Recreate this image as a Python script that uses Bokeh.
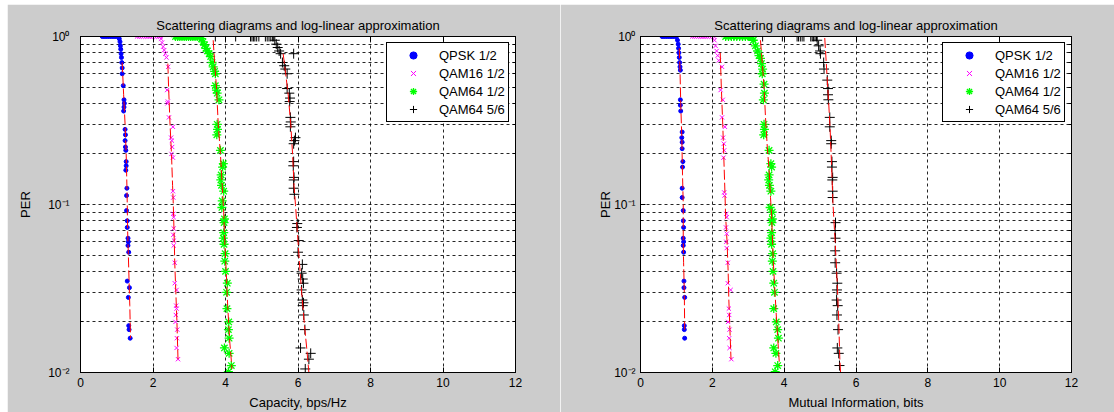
from bokeh.plotting import figure
from bokeh.layouts import row
from bokeh.models import (Range1d, FixedTicker, LinearAxis, LogAxis, Legend, LegendItem,
                          CustomJSTickFormatter)
from bokeh.embed import file_html
from bokeh.resources import INLINE

TITLE = "Scattering diagrams and log-linear approximation"
series_labels = ["QPSK 1/2", "QAM16 1/2", "QAM64 1/2", "QAM64 5/6"]
x_ticks = [0, 2, 4, 6, 8, 10, 12]
y_major = [0.01, 0.1, 1]
y_minor = [0.02, 0.03, 0.04, 0.05, 0.06, 0.07, 0.08, 0.09,
           0.2, 0.3, 0.4, 0.5, 0.6, 0.7, 0.8, 0.9]
x_labels = ["Capacity, bps/Hz", "Mutual Information, bits"]
y_label = "PER"

# ---------------- Left panel: capacity ----------------
cap_qpsk_x = [0.60, 0.65, 0.70, 0.75, 0.80, 0.85, 0.90, 0.95, 1.00, 1.05,
              1.07, 1.09, 1.10, 1.11, 1.12, 1.13, 1.14, 1.15, 1.15,
              1.18, 1.20, 1.21, 1.20, 1.19, 1.23, 1.24, 1.23, 1.24, 1.25,
              1.26, 1.26, 1.25, 1.28, 1.27, 1.27, 1.29, 1.29, 1.31, 1.32,
              1.31, 1.33, 1.29, 1.35, 1.32, 1.33, 1.34, 1.37]
cap_qpsk_per = [1, 1, 1, 1, 1, 1, 1, 1, 1, 1,
                0.97, 0.93, 0.88, 0.84, 0.79, 0.75, 0.70, 0.65, 0.60,
                0.51, 0.42, 0.40, 0.38, 0.36, 0.28, 0.26, 0.24, 0.22, 0.21,
                0.18, 0.17, 0.16, 0.125, 0.113, 0.092, 0.080, 0.073, 0.063, 0.060,
                0.057, 0.052, 0.035, 0.032, 0.028, 0.019, 0.018, 0.016]

cap_qam16_x = [1.56, 1.62, 1.68, 1.74, 1.80, 1.86, 1.92, 1.98, 2.04, 2.10, 2.16, 2.20,
               2.22, 2.25, 2.28, 2.31, 2.34, 2.37, 2.42, 2.39, 2.41, 2.40,
               2.44, 2.55, 2.50, 2.52, 2.53, 2.51, 2.55, 2.55, 2.56, 2.56,
               2.57, 2.57, 2.56, 2.58, 2.57, 2.60, 2.60, 2.65, 2.64, 2.65,
               2.63, 2.62, 2.67, 2.66, 2.65, 2.69]
cap_qam16_per = [1, 1, 1, 1, 1, 1, 1, 1, 1, 1, 1, 1,
                 0.97, 0.92, 0.87, 0.83, 0.79, 0.75, 0.66, 0.48, 0.41, 0.40,
                 0.33, 0.29, 0.25, 0.24, 0.22, 0.20, 0.19, 0.12, 0.11, 0.088,
                 0.084, 0.072, 0.066, 0.061, 0.057, 0.045, 0.034, 0.031, 0.025, 0.024,
                 0.022, 0.020, 0.018, 0.016, 0.014, 0.012]

cap_qam64h_x = [2.62, 2.68, 2.74, 2.80, 2.86, 2.92, 2.98, 3.04, 3.10, 3.16, 3.22, 3.28, 3.31,
                3.34, 3.38, 3.42, 3.46, 3.50, 3.55, 3.59, 3.63, 3.66, 3.70,
                3.72, 3.72, 3.75, 3.77, 3.82, 3.77, 3.78, 3.76, 3.86, 3.94,
                3.92, 3.88, 3.87, 3.89, 3.95, 3.91, 3.90, 3.97, 3.96, 3.95,
                3.94, 3.96, 3.99, 3.98, 4.00, 4.05, 4.03, 4.04, 4.09, 4.08,
                4.10, 3.97, 4.10, 4.16, 4.08]
cap_qam64h_per = [1, 1, 1, 1, 1, 1, 1, 1, 1, 1, 1, 1, 1,
                  0.97, 0.93, 0.89, 0.85, 0.82, 0.79, 0.76, 0.70, 0.66, 0.62,
                  0.60, 0.51, 0.48, 0.46, 0.42, 0.30, 0.28, 0.26, 0.21, 0.175,
                  0.167, 0.15, 0.14, 0.13, 0.12, 0.105, 0.096, 0.082, 0.078, 0.068,
                  0.063, 0.058, 0.051, 0.046, 0.040, 0.034, 0.030, 0.024, 0.020, 0.018,
                  0.016, 0.014, 0.013, 0.011, 0.0101]

cap_qam64f_x = [3.72, 4.28, 4.69, 4.73, 4.77, 4.81, 4.86, 4.92, 5.10, 5.15, 5.20, 5.25, 5.30, 5.33,
                5.36, 5.40, 5.44, 5.48, 5.52, 5.88, 5.57, 5.62, 5.65, 5.70,
                5.70, 5.76, 5.78, 5.77, 5.79, 5.80, 5.79, 5.93, 5.90, 5.88,
                5.88, 5.87, 5.89, 5.88, 5.88, 5.90, 5.98, 5.97, 6.02, 6.00,
                6.12, 6.10, 6.13, 6.15, 6.10, 6.12, 6.15, 6.13, 6.16, 6.19,
                6.07, 6.35, 6.30, 6.20]
cap_qam64f_per = [1, 1, 1, 1, 1, 1, 1, 1, 1, 1, 1, 1, 1, 1,
                  0.95, 0.90, 0.86, 0.82, 0.79, 0.79, 0.70, 0.67, 0.64, 0.60,
                  0.49, 0.46, 0.43, 0.41, 0.33, 0.31, 0.29, 0.25, 0.24, 0.23,
                  0.18, 0.17, 0.145, 0.14, 0.125, 0.115, 0.077, 0.073, 0.061, 0.052,
                  0.044, 0.039, 0.036, 0.034, 0.031, 0.027, 0.026, 0.025, 0.022, 0.018,
                  0.014, 0.013, 0.012, 0.0105]

cap_qpsk_fit_x = [1.15, 1.19, 1.23, 1.26, 1.28, 1.29, 1.30, 1.32, 1.34, 1.36, 1.38]
cap_qpsk_fit_per = [0.70, 0.45, 0.30, 0.20, 0.13, 0.10, 0.07, 0.05, 0.035, 0.025, 0.016]
cap_qam16_fit_x = [2.41, 2.43, 2.47, 2.51, 2.54, 2.56, 2.58, 2.60, 2.63, 2.66, 2.69]
cap_qam16_fit_per = [0.69, 0.50, 0.30, 0.20, 0.13, 0.10, 0.07, 0.045, 0.03, 0.02, 0.012]
cap_qam64h_fit_x = [3.66, 3.70, 3.75, 3.80, 3.86, 3.91, 3.95, 3.98, 4.02, 4.06, 4.12, 4.18]
cap_qam64h_fit_per = [0.95, 0.70, 0.50, 0.30, 0.20, 0.13, 0.09, 0.06, 0.04, 0.025, 0.015, 0.0105]
cap_qam64f_fit_x = [5.59, 5.66, 5.73, 5.80, 5.85, 5.89, 5.93, 5.98, 6.04, 6.10, 6.18, 6.24, 6.30]
cap_qam64f_fit_per = [0.79, 0.60, 0.45, 0.30, 0.20, 0.13, 0.10, 0.07, 0.045, 0.03, 0.019, 0.014, 0.01]

# ---------------- Right panel: mutual information ----------------
mi_qpsk_x = [0.60, 0.65, 0.70, 0.75, 0.80, 0.85, 0.90, 0.95, 1.00,
             1.03, 1.05, 1.06, 1.07, 1.08, 1.09, 1.10, 1.11, 1.11, 1.11,
             1.12, 1.16, 1.15, 1.16, 1.16, 1.18, 1.17, 1.16, 1.16, 1.19,
             1.19, 1.20, 1.19, 1.20, 1.19, 1.20, 1.21, 1.21, 1.23, 1.22,
             1.22, 1.23]
mi_qpsk_per = [1, 1, 1, 1, 1, 1, 1, 1, 1,
               0.95, 0.90, 0.85, 0.80, 0.75, 0.70, 0.66, 0.63, 0.42, 0.39,
               0.36, 0.27, 0.25, 0.235, 0.215, 0.18, 0.167, 0.125, 0.11, 0.092,
               0.080, 0.073, 0.063, 0.060, 0.057, 0.052, 0.035, 0.032, 0.028, 0.019,
               0.018, 0.016]

mi_qam16_x = [1.44, 1.50, 1.56, 1.62, 1.68, 1.74, 1.80, 1.86, 1.92, 1.98, 2.04,
              2.06, 2.09, 2.12, 2.15, 2.18, 2.27, 2.23, 2.29, 2.27, 2.35,
              2.30, 2.32, 2.33, 2.31, 2.33, 2.34, 2.39, 2.40, 2.38, 2.40,
              2.39, 2.40, 2.43, 2.43, 2.51, 2.46, 2.47, 2.44, 2.48, 2.47,
              2.48, 2.53]
mi_qam16_per = [1, 1, 1, 1, 1, 1, 1, 1, 1, 1, 1,
                0.95, 0.88, 0.82, 0.77, 0.72, 0.66, 0.48, 0.42, 0.33, 0.29,
                0.25, 0.23, 0.21, 0.19, 0.118, 0.113, 0.088, 0.084, 0.073, 0.067,
                0.060, 0.055, 0.045, 0.034, 0.031, 0.024, 0.022, 0.020, 0.018, 0.016,
                0.014, 0.012]

mi_qam64h_x = [2.37, 2.45, 2.53, 2.60, 2.68, 2.76, 2.84, 2.92, 3.00, 3.06, 3.11,
               3.14, 3.20, 3.26, 3.30, 3.34, 3.37, 3.40, 3.39, 3.44, 3.45,
               3.42, 3.44, 3.45, 3.43, 3.58, 3.63, 3.65, 3.58, 3.57, 3.59,
               3.63, 3.61, 3.67, 3.67, 3.66, 3.65, 3.63, 3.65, 3.68, 3.67,
               3.69, 3.71, 3.73, 3.71, 3.78, 3.82, 3.84, 3.71, 3.77, 3.82,
               3.75]
mi_qam64h_per = [1, 1, 1, 1, 1, 1, 1, 1, 1, 1, 1,
                 0.95, 0.88, 0.82, 0.77, 0.74, 0.69, 0.64, 0.60, 0.52, 0.46,
                 0.42, 0.30, 0.28, 0.26, 0.21, 0.175, 0.167, 0.15, 0.14, 0.13,
                 0.12, 0.096, 0.090, 0.082, 0.078, 0.068, 0.063, 0.058, 0.051, 0.046,
                 0.040, 0.034, 0.030, 0.024, 0.020, 0.018, 0.016, 0.014, 0.013, 0.011,
                 0.0101]

mi_qam64f_x = [3.40, 3.95, 4.36, 4.40, 4.45, 4.50, 4.55, 4.74, 4.78, 4.82, 4.86, 4.90,
               4.92, 4.96, 5.00, 5.01, 5.10, 5.11, 5.20, 5.22, 5.22, 5.23,
               5.27, 5.27, 5.31, 5.31, 5.33, 5.33, 5.35, 5.34, 5.35, 5.35,
               5.43, 5.42, 5.43, 5.42, 5.42, 5.46, 5.48, 5.47, 5.46, 5.49,
               5.47, 5.50, 5.48, 5.52, 5.54]
mi_qam64f_per = [1, 1, 1, 1, 1, 1, 1, 1, 1, 1, 1, 1,
                 0.95, 0.88, 0.82, 0.79, 0.70, 0.64, 0.55, 0.49, 0.45, 0.42,
                 0.33, 0.29, 0.24, 0.23, 0.18, 0.167, 0.145, 0.14, 0.12, 0.11,
                 0.078, 0.070, 0.063, 0.053, 0.045, 0.039, 0.034, 0.031, 0.027, 0.025,
                 0.022, 0.018, 0.014, 0.013, 0.011]

mi_qpsk_fit_x = [1.08, 1.10, 1.12, 1.15, 1.17, 1.19, 1.19, 1.20, 1.22, 1.23]
mi_qpsk_fit_per = [0.85, 0.63, 0.40, 0.25, 0.15, 0.10, 0.06, 0.045, 0.03, 0.018]
mi_qam16_fit_x = [2.22, 2.25, 2.29, 2.32, 2.35, 2.37, 2.41, 2.44, 2.46, 2.49, 2.52]
mi_qam16_fit_per = [0.80, 0.50, 0.30, 0.19, 0.12, 0.085, 0.06, 0.04, 0.027, 0.018, 0.012]
mi_qam64h_fit_x = [3.34, 3.39, 3.44, 3.48, 3.53, 3.58, 3.62, 3.65, 3.67, 3.70, 3.73, 3.78, 3.82, 3.87]
mi_qam64h_fit_per = [0.95, 0.70, 0.50, 0.33, 0.22, 0.16, 0.11, 0.085, 0.066, 0.045, 0.034, 0.022, 0.016, 0.011]
mi_qam64f_fit_x = [5.13, 5.19, 5.24, 5.28, 5.32, 5.36, 5.41, 5.45, 5.48, 5.52, 5.55, 5.57]
mi_qam64f_fit_per = [0.98, 0.60, 0.40, 0.28, 0.17, 0.10, 0.065, 0.045, 0.033, 0.02, 0.012, 0.01]

BG = "#cccccc"
FONT = "Liberation Sans"

MARKERS = [
    dict(marker="circle", size=4, fill_color="#0000ff", line_color="#0000ff", line_width=1),
    dict(marker="x", size=6, line_color="#ff00ff", line_width=1),
    dict(marker="asterisk", size=9, line_color="#00ff00", line_width=1.3),
    dict(marker="cross", size=10, line_color="#000000", line_width=1),
]

YFMT = r"""
const e = Math.round(Math.log10(tick));
const m = {"0": "\u2070", "1": "\u00b9", "2": "\u00b2", "-": "\u207b"};
let s = "";
for (const c of String(e)) { s += (m[c] !== undefined ? m[c] : c); }
return "10" + s;
"""


def tick_only_axis(cls, ticker):
    return cls(ticker=ticker, formatter=CustomJSTickFormatter(code="return '';"),
               major_label_standoff=0, major_tick_in=5, major_tick_out=0,
               minor_tick_in=3, minor_tick_out=0, axis_line_color="black",
               major_tick_line_color="black", minor_tick_line_color="black")


def make_panel(xlabel, series, fits, width, b_left, b_right, ytick_standoff,
               ylabel_standoff, margin):
    p = figure(width=width, height=408, x_range=Range1d(0, 12), y_range=Range1d(0.01, 1),
               y_axis_type="log", output_backend="svg", toolbar_location=None,
               min_border_left=b_left, min_border_right=b_right,
               min_border_top=32, min_border_bottom=40,
               background_fill_color="white", border_fill_color=BG, title=TITLE)
    p.margin = margin
    p.title.align = "center"
    p.title.text_font = FONT
    p.title.text_font_size = "13px"
    p.title.text_font_style = "normal"
    p.title.text_color = "black"
    p.title.standoff = 7
    p.outline_line_color = "black"
    p.outline_line_width = 1
    p.outline_line_alpha = 1

    xa = p.xaxis[0]
    xa.ticker = FixedTicker(ticks=x_ticks)
    xa.axis_label = xlabel
    ya = p.yaxis[0]
    ya.ticker = FixedTicker(ticks=y_major, minor_ticks=y_minor)
    ya.formatter = CustomJSTickFormatter(code=YFMT)
    ya.axis_label = y_label
    ya.major_label_standoff = ytick_standoff
    ya.axis_label_standoff = ylabel_standoff
    xa.major_label_standoff = 5
    xa.axis_label_standoff = 5
    for ax in (xa, ya):
        ax.axis_line_color = "black"
        ax.major_tick_in = 5
        ax.major_tick_out = 0
        ax.major_tick_line_color = "black"
        ax.major_label_text_font = FONT
        ax.major_label_text_font_size = "12px"
        ax.major_label_text_color = "black"
        ax.axis_label_text_font = FONT
        ax.axis_label_text_font_size = "13px"
        ax.axis_label_text_font_style = "normal"
        ax.axis_label_text_color = "black"
    xa.minor_tick_line_color = None
    ya.minor_tick_in = 3
    ya.minor_tick_out = 0
    ya.minor_tick_line_color = "black"

    top = tick_only_axis(LinearAxis, FixedTicker(ticks=x_ticks))
    top.minor_tick_line_color = None
    p.add_layout(top, "above")
    p.add_layout(tick_only_axis(LogAxis, FixedTicker(ticks=y_major, minor_ticks=y_minor)),
                 "right")

    for g in (p.xgrid[0], p.ygrid[0]):
        g.grid_line_color = "black"
        g.grid_line_dash = "3 3"
        g.grid_line_alpha = 0.85
    p.ygrid[0].minor_grid_line_color = "black"
    p.ygrid[0].minor_grid_line_dash = "3 3"
    p.ygrid[0].minor_grid_line_alpha = 0.85

    items = []
    for (sx, sy), mk, lab in zip(series, MARKERS, series_labels):
        r = p.scatter(sx, sy, **mk)
        items.append(LegendItem(label=lab, renderers=[r]))
    for fx, fy in fits:
        p.line(fx, fy, line_color="#ff0000", line_width=1, line_dash="10 3")

    leg = Legend(items=items, location="top_right", margin=6, padding=3, spacing=0,
                 label_height=18, glyph_height=18, glyph_width=46, label_standoff=3,
                 label_width=66, border_line_color="black", border_line_width=1,
                 border_line_alpha=1, background_fill_color="white", background_fill_alpha=1,
                 label_text_font=FONT, label_text_font_size="13px", label_text_color="black")
    p.add_layout(leg)
    return p


left = make_panel(
    x_labels[0],
    [(cap_qpsk_x, cap_qpsk_per), (cap_qam16_x, cap_qam16_per),
     (cap_qam64h_x, cap_qam64h_per), (cap_qam64f_x, cap_qam64f_per)],
    [(cap_qpsk_fit_x, cap_qpsk_fit_per), (cap_qam16_fit_x, cap_qam16_fit_per),
     (cap_qam64h_fit_x, cap_qam64h_fit_per), (cap_qam64f_fit_x, cap_qam64f_fit_per)],
    width=553, b_left=73, b_right=45, ytick_standoff=11, ylabel_standoff=12,
    margin=(4, 0, 0, 7))

right_p = make_panel(
    x_labels[1],
    [(mi_qpsk_x, mi_qpsk_per), (mi_qam16_x, mi_qam16_per),
     (mi_qam64h_x, mi_qam64h_per), (mi_qam64f_x, mi_qam64f_per)],
    [(mi_qpsk_fit_x, mi_qpsk_fit_per), (mi_qam16_fit_x, mi_qam16_fit_per),
     (mi_qam64h_fit_x, mi_qam64h_fit_per), (mi_qam64f_fit_x, mi_qam64f_fit_per)],
    width=554, b_left=80, b_right=43, ytick_standoff=5, ylabel_standoff=-2,
    margin=(4, 0, 0, 0))

layout = row(left, right_p, spacing=0)
open("out.html", "w", encoding="utf-8").write(file_html(layout, INLINE))
